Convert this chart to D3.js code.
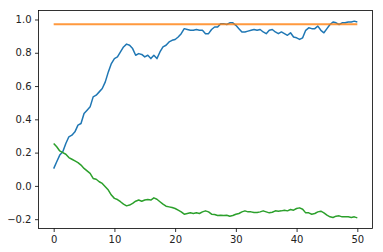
<!DOCTYPE html>
<html>
<head>
<meta charset="utf-8">
<script src="https://cdn.jsdelivr.net/npm/d3@7"></script>
<style>
  body { margin: 0; background: #fff; }
  svg { display: block; }
  .tick text { font-family: "DejaVu Sans", sans-serif; font-size: 10px; fill: #222; }
</style>
</head>
<body>
<svg id="chart" width="383" height="252"></svg>
<script>
// values, one every 0.5 on x
const t = d3.range(0, 50.01, 0.5);
const blue = [
  0.104, 0.145, 0.185, 0.205, 0.255, 0.295, 0.305, 0.325, 0.365, 0.375,
  0.435, 0.455, 0.475, 0.535, 0.545, 0.565, 0.585, 0.625, 0.685, 0.735,
  0.765, 0.775, 0.805, 0.835, 0.852, 0.845, 0.825, 0.785, 0.795, 0.79,
  0.775, 0.785, 0.765, 0.785, 0.765, 0.805, 0.835, 0.845, 0.865, 0.875,
  0.88, 0.895, 0.915, 0.945, 0.94, 0.935, 0.935, 0.94, 0.935, 0.935,
  0.915, 0.915, 0.94, 0.955, 0.955, 0.975, 0.975, 0.97, 0.98, 0.98,
  0.965, 0.945, 0.925, 0.925, 0.93, 0.935, 0.94, 0.935, 0.94, 0.925,
  0.915, 0.935, 0.94, 0.925, 0.915, 0.925, 0.915, 0.905, 0.92, 0.895,
  0.89, 0.88, 0.89, 0.935, 0.95, 0.945, 0.945, 0.96, 0.935, 0.92,
  0.945, 0.97, 0.985, 0.98, 0.97, 0.98, 0.98, 0.985, 0.985, 0.99,
  0.985
];
const orange = t.map(() => 0.972);
const green = [
  0.255, 0.235, 0.21, 0.2, 0.19, 0.17, 0.16, 0.15, 0.14, 0.125,
  0.105, 0.09, 0.075, 0.045, 0.04, 0.025, 0.015, -0.005, -0.025, -0.055,
  -0.075, -0.082, -0.095, -0.11, -0.12, -0.115, -0.105, -0.092, -0.085, -0.092,
  -0.085, -0.082, -0.085, -0.072, -0.08, -0.095, -0.11, -0.122, -0.126, -0.13,
  -0.136, -0.146, -0.156, -0.17, -0.166, -0.162, -0.166, -0.162, -0.166, -0.156,
  -0.15, -0.156, -0.17, -0.172, -0.178, -0.176, -0.178, -0.176, -0.182, -0.178,
  -0.17, -0.166, -0.156, -0.15, -0.156, -0.156, -0.16, -0.16, -0.156, -0.15,
  -0.156, -0.162, -0.158, -0.15, -0.152, -0.15, -0.146, -0.15, -0.142, -0.146,
  -0.136, -0.132, -0.14, -0.162, -0.162, -0.17, -0.166, -0.156, -0.152, -0.162,
  -0.176, -0.186, -0.19, -0.182, -0.18, -0.186, -0.186, -0.186, -0.19, -0.186,
  -0.192
];
const xTicks = [0, 10, 20, 30, 40, 50];
const yTicks = [-0.2, 0.0, 0.2, 0.4, 0.6, 0.8, 1.0];

const svg = d3.select("#chart");
const m = { left: 38.5, right: 372.5, top: 10.5, bottom: 228.5 };

const x = d3.scaleLinear().domain([-2.5, 52.5]).range([m.left, m.right]);
const y = d3.scaleLinear().domain([-0.256, 1.054]).range([m.bottom, m.top]);

const series = [
  { values: blue, color: "#1f77b4", width: 1.5, opacity: 1 },
  { values: orange, color: "#ff7f0e", width: 2, opacity: 0.8 },
  { values: green, color: "#2ca02c", width: 1.5, opacity: 1 }
];

const line = d3.line()
  .x((d, i) => x(t[i]))
  .y(d => y(d));

svg.selectAll("path.series")
  .data(series)
  .join("path")
  .attr("class", "series")
  .attr("fill", "none")
  .attr("stroke", d => d.color)
  .attr("stroke-width", d => d.width)
  .attr("stroke-opacity", d => d.opacity)
  .attr("stroke-linejoin", "round")
  .attr("d", d => line(d.values));

// axes
const fmtY = v => d3.format(".1f")(v).replace("-", "\u2212");

svg.append("g")
  .attr("transform", `translate(0,${m.bottom})`)
  .call(d3.axisBottom(x).tickValues(xTicks).tickSize(3.5).tickPadding(3.5).tickSizeOuter(0))
  .call(g => g.select(".domain").remove())
  .call(g => g.selectAll(".tick line").attr("stroke", "#000").attr("stroke-width", 0.8));

svg.append("g")
  .attr("transform", `translate(${m.left},0)`)
  .call(d3.axisLeft(y).tickValues(yTicks).tickFormat(fmtY).tickSize(3.5).tickPadding(3.5).tickSizeOuter(0))
  .call(g => g.select(".domain").remove())
  .call(g => g.selectAll(".tick line").attr("stroke", "#000").attr("stroke-width", 0.8));

// frame
svg.append("rect")
  .attr("x", m.left)
  .attr("y", m.top)
  .attr("width", m.right - m.left)
  .attr("height", m.bottom - m.top)
  .attr("fill", "none")
  .attr("stroke", "#000")
  .attr("stroke-width", 0.8);
</script>
</body>
</html>
